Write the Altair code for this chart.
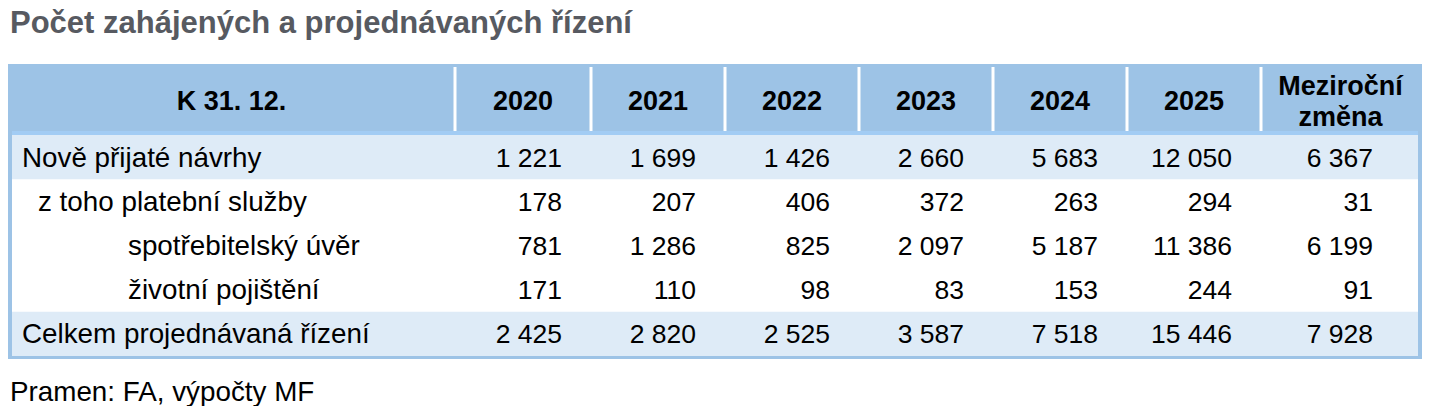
import altair as alt
import pandas as pd

# ---------------- data ----------------
title_text = "Počet zahájených a projednávaných řízení"
source_text = "Pramen: FA, výpočty MF"
corner_header = "K 31. 12."
year_headers = ["2020", "2021", "2022", "2023", "2024", "2025"]
change_header = ["Meziroční", "změna"]

row_labels = [
    "Nově přijaté návrhy",
    "z toho platební služby",
    "spotřebitelský úvěr",
    "životní pojištění",
    "Celkem projednávaná řízení",
]
v2020 = [1221, 178, 781, 171, 2425]
v2021 = [1699, 207, 1286, 110, 2820]
v2022 = [1426, 406, 825, 98, 2525]
v2023 = [2660, 372, 2097, 83, 3587]
v2024 = [5683, 263, 5187, 153, 7518]
v2025 = [12050, 294, 11386, 244, 15446]
change = [6367, 31, 6199, 91, 7928]

# ---------------- layout (page pixel space) ----------------
W, H = 1420, 398
col_edges = [8, 455, 591, 725, 859, 993, 1127, 1261, 1420]
num_right_pad = [29, 29, 29, 29, 29, 29, 47]
indent_x = [22, 38, 128, 128, 22]
band_rows = [0, 4]
table_left, table_right = 8, 1422
header_top, header_bottom = 64, 131
body_top, row_h = 135, 44.2
table_bottom = 359
border = 4
body_font = "Liberation Sans"
FS = 26.5
FS_LAB = 27.8
FS_HDR = 27

C_HEAD = "#9DC3E6"
C_LINE = "#A2CCF4"
C_BAND = "#DEEBF7"
C_TITLE = "#575A61"

def fmt(v):
    return f"{v:,}".replace(",", " ")

def row_center(i):
    return body_top + row_h * i + row_h / 2

xs = alt.Scale(domain=[8, 8 + W], nice=False, zero=False)
ys = alt.Scale(domain=[8, 8 + H], nice=False, zero=False, reverse=True)

# ---------------- rectangles ----------------
rects = [
    dict(x=table_left, x2=table_right, y=header_top, y2=table_bottom, fill=C_HEAD),
    dict(x=table_left + border, x2=table_right - border, y=body_top, y2=table_bottom - border, fill="#FFFFFF"),
    dict(x=table_left + border, x2=table_right - border, y=header_bottom, y2=body_top, fill=C_LINE),
]
for r in band_rows:
    rects.append(dict(x=table_left + border, x2=table_right - border,
                      y=body_top + row_h * r, y2=body_top + row_h * (r + 1), fill=C_BAND))
for e in col_edges[1:-1]:
    rects.append(dict(x=e - 1.5, x2=e + 1.5, y=header_top + 3, y2=header_bottom, fill="#FFFFFF"))
rect_df = pd.DataFrame(rects)

rect_layer = alt.Chart(rect_df).mark_rect().encode(
    x=alt.X("x:Q", scale=xs, axis=None),
    x2="x2:Q",
    y=alt.Y("y:Q", scale=ys, axis=None),
    y2="y2:Q",
    fill=alt.Fill("fill:N", scale=None),
)

base_off = 0.358 * FS

# ---------------- header texts ----------------
hdr = [dict(x=(col_edges[0] + col_edges[1]) / 2, y=110, t=corner_header)]
for j, yr in enumerate(year_headers):
    hdr.append(dict(x=(col_edges[j + 1] + col_edges[j + 2]) / 2, y=110, t=yr))
cx = (col_edges[-2] + col_edges[-1]) / 2
hdr.append(dict(x=cx, y=95, t=change_header[0]))
hdr.append(dict(x=cx, y=126, t=change_header[1]))
hdr_layer = alt.Chart(pd.DataFrame(hdr)).mark_text(
    font=body_font, fontSize=FS_HDR, fontWeight="bold", align="center", baseline="alphabetic", color="#000000"
).encode(x=alt.X("x:Q", scale=xs), y=alt.Y("y:Q", scale=ys), text="t:N")

# ---------------- row labels ----------------
lab = [dict(x=indent_x[i], y=row_center(i) + base_off, t=l) for i, l in enumerate(row_labels)]
lab_layer = alt.Chart(pd.DataFrame(lab)).mark_text(
    font=body_font, fontSize=FS_LAB, align="left", baseline="alphabetic", color="#000000"
).encode(x=alt.X("x:Q", scale=xs), y=alt.Y("y:Q", scale=ys), text="t:N")

# ---------------- numbers ----------------
cols = [v2020, v2021, v2022, v2023, v2024, v2025, change]
nums = []
for j, series in enumerate(cols):
    xr = col_edges[j + 2] - num_right_pad[j]
    for i, v in enumerate(series):
        nums.append(dict(x=xr, y=row_center(i) + base_off, v=v, t=fmt(v)))
num_layer = alt.Chart(pd.DataFrame(nums)).mark_text(
    font=body_font, fontSize=FS, align="right", baseline="alphabetic", color="#000000"
).encode(x=alt.X("x:Q", scale=xs), y=alt.Y("y:Q", scale=ys), text="t:N")

# ---------------- title & source ----------------
title_layer = alt.Chart(pd.DataFrame([dict(x=10, y=32.5, t=title_text)])).mark_text(
    font=body_font, fontSize=31, fontWeight="bold", align="left", baseline="alphabetic", color=C_TITLE
).encode(x=alt.X("x:Q", scale=xs), y=alt.Y("y:Q", scale=ys), text="t:N")

src_layer = alt.Chart(pd.DataFrame([dict(x=10, y=400.5, t=source_text)])).mark_text(
    font=body_font, fontSize=FS_LAB, align="left", baseline="alphabetic", color="#000000"
).encode(x=alt.X("x:Q", scale=xs), y=alt.Y("y:Q", scale=ys), text="t:N")

chart = alt.layer(rect_layer, hdr_layer, lab_layer, num_layer, title_layer, src_layer).properties(
    width=W, height=H, padding=0, autosize=alt.AutoSizeParams(type="none"), background="#FFFFFF"
).configure_view(stroke=None)

chart.save("out.html", embed_options={"renderer": "svg", "actions": False})
